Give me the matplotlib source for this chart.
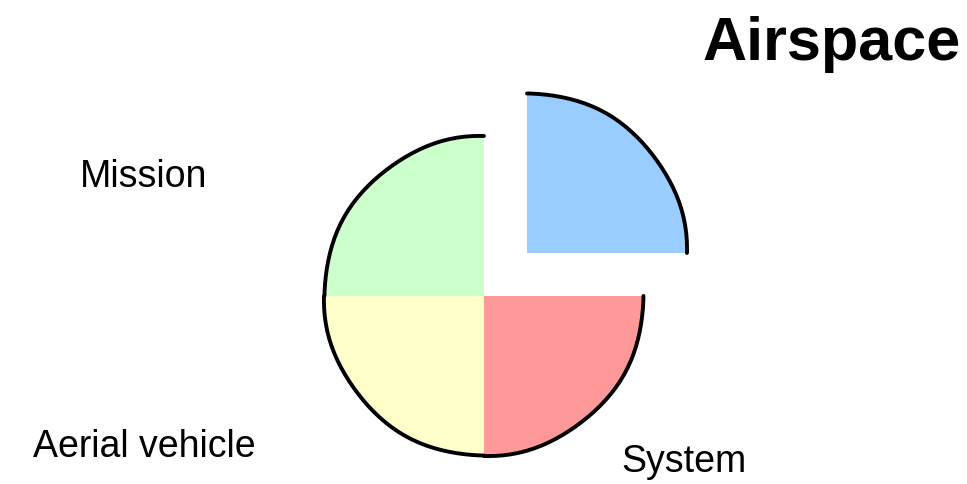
import matplotlib
matplotlib.use("Agg")
import matplotlib.pyplot as plt
from matplotlib.patches import Arc

plt.rcParams['font.family'] = ['Liberation Sans', 'DejaVu Sans']

labels = ['Airspace', 'Mission', 'Aerial vehicle', 'System']
values = [25, 25, 25, 25]
colors = ['#99ccff', '#ccffcc', '#ffffcc', '#ff9999']
explode = [0.38, 0, 0, 0]

# label baselines (data units, pie radius = 1)
label_pos = [(2.175, 1.48), (-2.13, 0.69), (-2.125, -1.0), (1.25, -1.094)]

fig = plt.figure(figsize=(9.67, 4.85), dpi=100)
ax = fig.add_axes([0, 0, 1, 1])
wedges, _ = ax.pie(values, colors=colors, explode=explode, startangle=0,
                   counterclock=True, wedgeprops=dict(linewidth=0))

# hand drawn outline, only on the outer arcs
for w in wedges:
    arc = Arc(w.center, 2 * w.r, 2 * w.r, theta1=w.theta1, theta2=w.theta2,
              color='black', lw=2.8, capstyle='round')
    arc.set_sketch_params(0.6, 120, 1)
    ax.add_patch(arc)

for i, (lab, (x, y)) in enumerate(zip(labels, label_pos)):
    if i == 0:
        ax.text(x, y, lab, fontsize=44, fontweight='bold', ha='center', va='baseline')
    else:
        ax.text(x, y, lab, fontsize=27, ha='center', va='baseline')

ax.set_xlim(-3.025, 3.019)
ax.set_ylim(-1.175, 1.856)
ax.set_aspect('auto')
ax.axis('off')
fig.savefig('out.png', dpi=100)
